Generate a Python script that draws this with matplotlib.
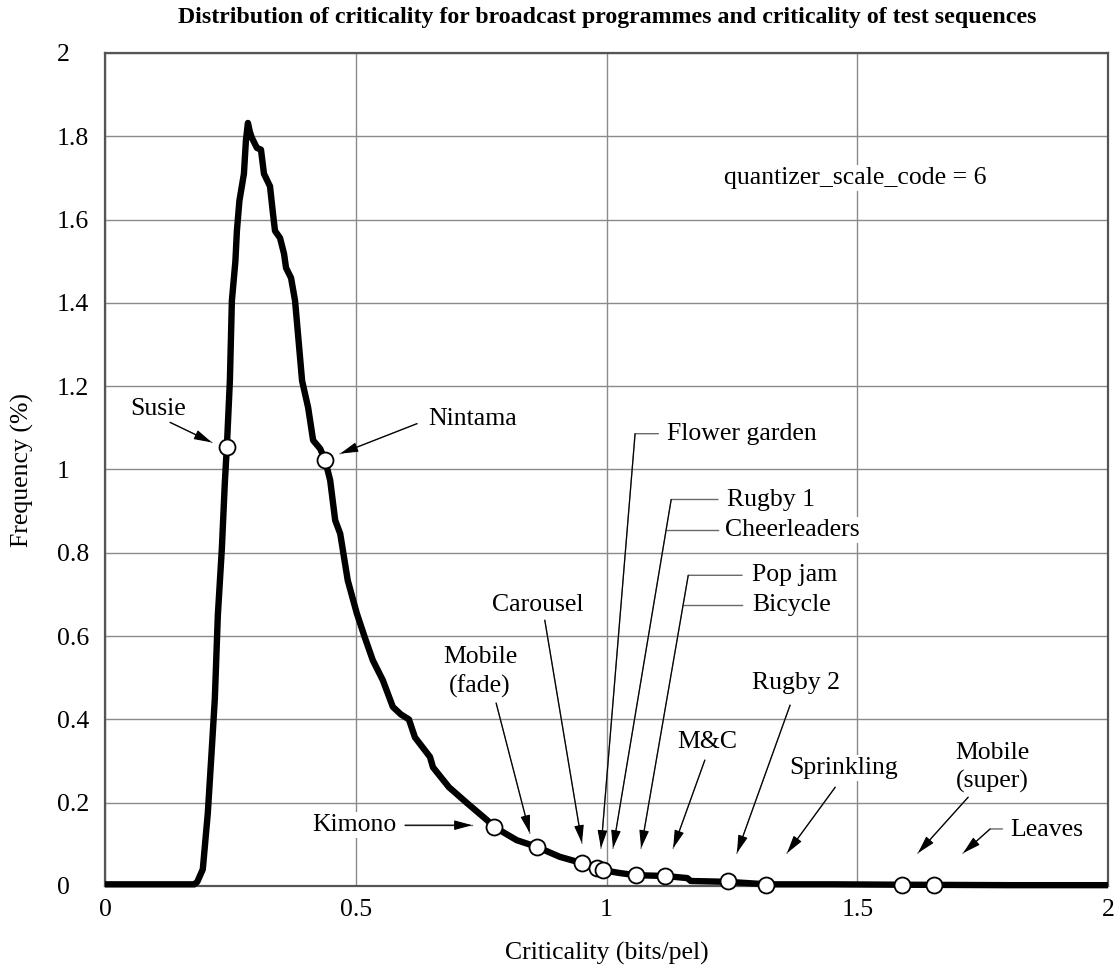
import matplotlib
matplotlib.use("Agg")
import matplotlib.pyplot as plt

# ---------------- data ----------------
curve_x = [0.000, 0.178, 0.184, 0.195, 0.205, 0.213, 0.219, 0.225, 0.233, 0.239,
           0.243, 0.249, 0.253, 0.260, 0.263, 0.268, 0.277, 0.281, 0.285, 0.289,
           0.293, 0.303, 0.311, 0.317, 0.329, 0.335, 0.339, 0.349, 0.357, 0.361,
           0.371, 0.379, 0.393, 0.405, 0.415, 0.429, 0.439, 0.449, 0.459, 0.469,
           0.484, 0.502, 0.518, 0.534, 0.554, 0.574, 0.590, 0.606, 0.618, 0.648,
           0.654, 0.686, 0.722, 0.762, 0.776, 0.821, 0.861, 0.907, 0.951, 0.981,
           0.993, 1.027, 1.059, 1.117, 1.161, 1.168, 1.242, 1.320, 1.450, 1.600,
           1.800, 2.000]
curve_y = [0.004, 0.004, 0.010, 0.040, 0.175, 0.330, 0.450, 0.650, 0.810, 0.970,
           1.055, 1.213, 1.405, 1.500, 1.573, 1.645, 1.710, 1.790, 1.832, 1.810,
           1.796, 1.772, 1.768, 1.710, 1.680, 1.614, 1.573, 1.556, 1.518, 1.484,
           1.460, 1.405, 1.213, 1.149, 1.070, 1.050, 1.022, 0.974, 0.878, 0.846,
           0.734, 0.655, 0.597, 0.542, 0.494, 0.430, 0.412, 0.400, 0.357, 0.310,
           0.285, 0.237, 0.199, 0.158, 0.142, 0.110, 0.094, 0.070, 0.055, 0.046,
           0.038, 0.031, 0.026, 0.024, 0.019, 0.012, 0.010, 0.004, 0.004, 0.003,
           0.002, 0.002]

seq_x = [0.243, 0.439, 0.776, 0.861, 0.951, 0.981, 0.993, 1.059, 1.117, 1.242,
         1.318, 1.589, 1.653]
seq_y = [1.055, 1.022, 0.142, 0.094, 0.055, 0.044, 0.038, 0.026, 0.024, 0.012,
         0.003, 0.003, 0.002]

x_ticks = [0, 0.5, 1, 1.5, 2]
x_ticklabels = ["0", "0.5", "1", "1.5", "2"]
y_ticks = [0, 0.2, 0.4, 0.6, 0.8, 1, 1.2, 1.4, 1.6, 1.8, 2]
y_ticklabels = ["0", "0.2", "0.4", "0.6", "0.8", "1", "1.2", "1.4", "1.6", "1.8", "2"]

title = "Distribution of criticality for broadcast programmes and criticality of test sequences"
xlabel = "Criticality (bits/pel)"
ylabel = "Frequency (%)"
note = "quantizer_scale_code = 6"

# ---------------- figure ----------------
W, H = 1118, 977
plt.rcParams['font.family'] = ['Liberation Serif', 'DejaVu Serif']
fig = plt.figure(figsize=(W / 100, H / 100), dpi=100)
L, R, T, B = 105, 1108, 53, 886
ax = fig.add_axes([L / W, 1 - B / H, (R - L) / W, (B - T) / H])
ax.set_xlim(0, 2)
ax.set_ylim(0, 2)

ax.set_xticks(x_ticks)
ax.set_xticklabels(x_ticklabels, fontsize=18.5)
ax.set_yticks(y_ticks)
ax.set_yticklabels(y_ticklabels, fontsize=18.5)
ax.tick_params(axis='x', length=0, pad=9)
ax.tick_params(axis='y', length=0, pad=34.5)
for lab in ax.get_yticklabels():
    lab.set_horizontalalignment('left')

ax.grid(True, color='#8a8a8a', lw=1.0)
ax.set_axisbelow(True)
for s in ax.spines.values():
    s.set_color('#555555')
    s.set_linewidth(1.6)

ax.plot(curve_x, curve_y, color='black', lw=4.6, solid_joinstyle='round',
        solid_capstyle='butt', zorder=3, clip_on=False)
ax.plot(seq_x, seq_y, 'o', ms=11.5, mfc='white', mec='black', mew=1.3, zorder=4,
        clip_on=False)

fig.text(607 / W, 1 - 18 / H, title, ha='center', va='center',
         fontsize=17.2, fontweight='bold')
fig.text(22 / W, 1 - 470 / H, ylabel, rotation=90, ha='center', va='center', fontsize=18.5)
fig.text(607 / W, 1 - 953 / H, xlabel, ha='center', va='center', fontsize=18.5)

bbox = dict(facecolor='white', edgecolor='none', pad=1.5)
fs = 18.5
ax.text(1.234, 1.700, note, ha='left', va='center', fontsize=fs, bbox=bbox, zorder=5)

LINE = '#6a6a6a'


def head(tip, frm):
    # black filled arrow head at tip, pointing from frm
    ax.annotate('', xy=tip, xytext=frm,
                arrowprops=dict(arrowstyle='-|>,head_length=1.1,head_width=0.3',
                                mutation_scale=10, color='black', lw=0.8,
                                shrinkA=0, shrinkB=0), zorder=6)


def line(pts):
    xs = [p[0] for p in pts]
    ys = [p[1] for p in pts]
    ax.plot(xs, ys, color=LINE, lw=1.0, zorder=5)


def pointer(pts):
    line(pts)
    head(pts[-1], pts[-2])


# simple labels with straight pointers
simple = [
    ("Susie", (0.106, 1.146), 'center', [(0.130, 1.113), (0.213, 1.065)]),
    ("Nintama", (0.644, 1.122), 'left', [(0.622, 1.110), (0.469, 1.038)]),
    ("Kimono", (0.498, 0.146), 'center', [(0.598, 0.146), (0.732, 0.146)]),
    ("Mobile\n(fade)", (0.748, 0.513), 'center', [(0.780, 0.439), (0.847, 0.127)]),
    ("Carousel", (0.863, 0.674), 'center', [(0.877, 0.638), (0.951, 0.103)]),
    ("M&C", (1.200, 0.345), 'center', [(1.196, 0.302), (1.133, 0.091)]),
    ("Rugby 2", (1.378, 0.487), 'center', [(1.366, 0.434), (1.260, 0.079)]),
    ("Sprinkling", (1.472, 0.283), 'center', [(1.456, 0.237), (1.360, 0.079)]),
    ("Mobile\n(super)", (1.769, 0.285), 'center', [(1.721, 0.213), (1.621, 0.079)]),
]
for txt, pos, ha, pts in simple:
    ax.text(pos[0], pos[1], txt, ha=ha, va='center', fontsize=fs,
            linespacing=1.35, bbox=bbox, zorder=5)
    pointer(pts)

# labels with elbow leaders
ax.text(1.121, 1.086, "Flower garden", ha='left', va='center', fontsize=fs, bbox=bbox, zorder=5)
pointer([(1.103, 1.086), (1.057, 1.086), (0.989, 0.091)])

ax.text(1.240, 0.926, "Rugby 1", ha='left', va='center', fontsize=fs, bbox=bbox, zorder=5)
ax.text(1.236, 0.854, "Cheerleaders", ha='left', va='center', fontsize=fs, bbox=bbox, zorder=5)
pointer([(1.222, 0.928), (1.129, 0.928), (1.013, 0.091)])
line([(1.222, 0.854), (1.120, 0.854)])

ax.text(1.290, 0.746, "Pop jam", ha='left', va='center', fontsize=fs, bbox=bbox, zorder=5)
ax.text(1.290, 0.674, "Bicycle", ha='left', va='center', fontsize=fs, bbox=bbox, zorder=5)
pointer([(1.270, 0.746), (1.163, 0.746), (1.069, 0.091)])
line([(1.270, 0.674), (1.153, 0.674)])

ax.text(1.805, 0.134, "Leaves", ha='left', va='center', fontsize=fs, bbox=bbox, zorder=5)
pointer([(1.789, 0.137), (1.765, 0.137), (1.711, 0.079)])

fig.savefig("out.png", dpi=100)
